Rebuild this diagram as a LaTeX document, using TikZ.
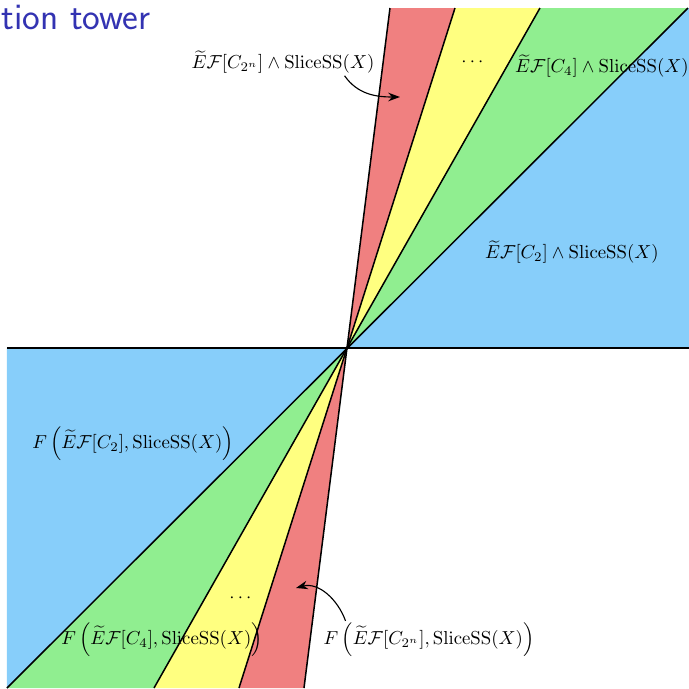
\documentclass[tikz,border=0pt]{standalone}
\usepackage{amsmath}
\usepackage{tikz}
\usetikzlibrary{arrows.meta, positioning, calc}
\usepackage{xcolor}
\definecolor{titleblue}{rgb}{0.2,0.2,0.7}
\definecolor{sliceRed}{RGB}{240,128,128}
\definecolor{sliceYellow}{RGB}{255,255,128}
\definecolor{sliceGreen}{RGB}{144,238,144}
\definecolor{sliceBlue}{RGB}{135,206,250}

\begin{document}
\begin{tikzpicture}[
  x=0.0187cm, y=0.0187cm,
  redwedge/.style = {fill=sliceRed},
  yellowwedge/.style = {fill=sliceYellow},
  greenwedge/.style = {fill=sliceGreen},
  bluewedge/.style = {fill=sliceBlue},
  ray/.style = {thick, black},
  lbl/.style = {inner sep=1pt, align=center},
  arrow/.style = {semithick, -{Stealth[length=2.2mm, width=1.6mm]}}
]
  \useasboundingbox (-347,-341) rectangle (342,348);

  % ======================================================
  % Title (cut at the frame edge)
  % ======================================================
  \node[anchor=base west, inner sep=0, text=titleblue,
        font=\sffamily\fontsize{20}{22}\selectfont] (title) at (-346,319) {tion tower};

  % ======================================================
  % Wedges
  % ======================================================
  \coordinate (o) at (0,0);

  % upper half
  \fill[redwedge]    (o) -- (43,340) -- (108,340) -- cycle;
  \fill[yellowwedge] (o) -- (108,340) -- (193,340) -- cycle;
  \fill[greenwedge]  (o) -- (193,340) -- (341,340) -- cycle;
  \fill[bluewedge]   (o) -- (341,340) -- (342,340) -- (342,0) -- cycle;

  % lower half
  \fill[redwedge]    (o) -- (-43,-340) -- (-108,-340) -- cycle;
  \fill[yellowwedge] (o) -- (-108,-340) -- (-193,-340) -- cycle;
  \fill[greenwedge]  (o) -- (-193,-340) -- (-340,-340) -- cycle;
  \fill[bluewedge]   (o) -- (-340,-340) -- (-340,0) -- cycle;

  % boundary lines
  \draw[ray] (-340,0) -- (342,0);
  \draw[ray] (-43,-340) -- (43,340);
  \draw[ray] (-108,-340) -- (108,340);
  \draw[ray] (-193,-340) -- (193,340);
  \draw[ray] (-340,-340) -- (341,340);

  % ======================================================
  % Labels, upper half
  % ======================================================
  \node[lbl] (redtop) at (-64,286)
    {$\widetilde{E}\mathcal{F}[C_{2^n}] \wedge \mathrm{SliceSS}(X)$};
  \node[lbl] (dotstop) at (127,286) {$\cdots$};
  \node[lbl] (greentop) at (255,282)
    {$\widetilde{E}\mathcal{F}[C_4] \wedge \mathrm{SliceSS}(X)$};
  \node[lbl] (bluetop) at (225,96)
    {$\widetilde{E}\mathcal{F}[C_2] \wedge \mathrm{SliceSS}(X)$};

  \coordinate (redtoptip) at (53,251);
  \draw[arrow] ([xshift=-0.6cm]redtop.south east) to[out=-55, in=180] (redtoptip);

  % ======================================================
  % Labels, lower half
  % ======================================================
  \node[lbl] (bluebot) at (-214,-96)
    {$F\left(\widetilde{E}\mathcal{F}[C_2], \mathrm{SliceSS}(X)\right)$};
  \node[lbl] (dotsbot) at (-105,-250) {$\cdots$};
  \node[lbl] (greenbot) at (-185,-292)
    {$F\left(\widetilde{E}\mathcal{F}[C_4], \mathrm{SliceSS}(X)\right)$};
  \node[lbl] (redbot) at (82,-292)
    {$F\left(\widetilde{E}\mathcal{F}[C_{2^n}], \mathrm{SliceSS}(X)\right)$};

  \coordinate (redbottip) at (-51,-240);
  \draw[arrow] ([xshift=0.45cm]redbot.north west) to[out=110, in=15] (redbottip);

\end{tikzpicture}
\end{document}
